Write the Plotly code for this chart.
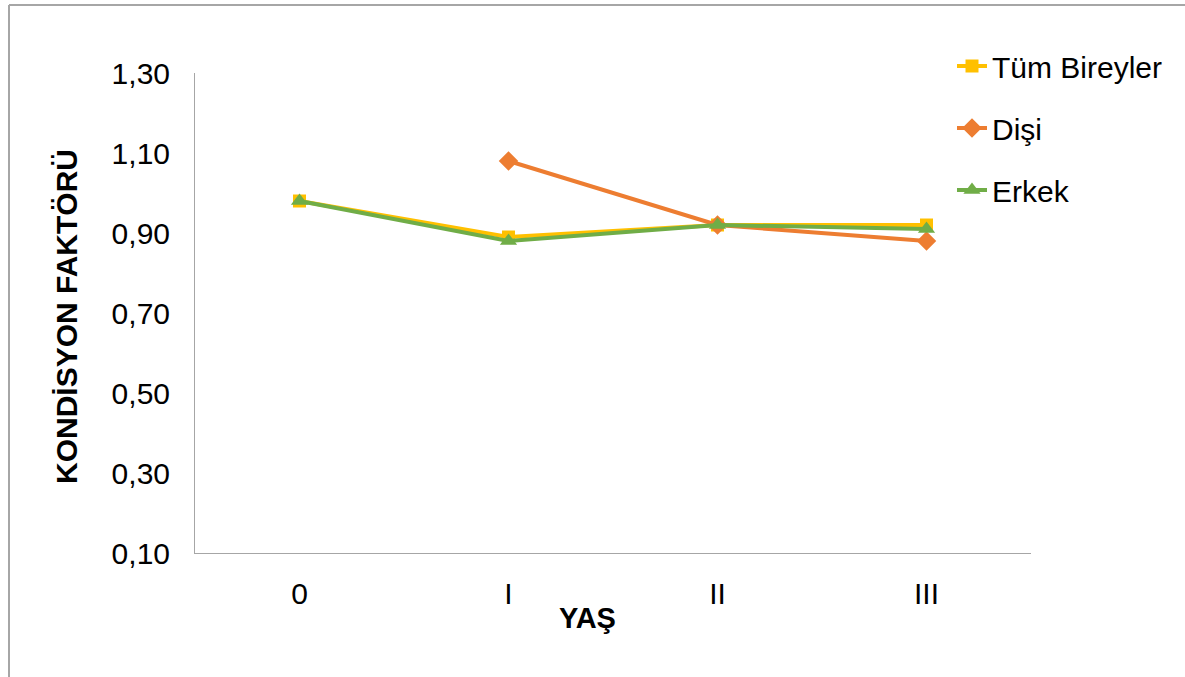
import plotly.graph_objects as go

categories = ["0", "I", "II", "III"]
tum_bireyler = [0.98, 0.89, 0.92, 0.92]
disi = [None, 1.08, 0.92, 0.88]
erkek = [0.98, 0.88, 0.92, 0.91]
y_ticks = [0.10, 0.30, 0.50, 0.70, 0.90, 1.10, 1.30]

FONT = "Liberation Sans, Arial, sans-serif"

fig = go.Figure()
fig.add_trace(go.Scatter(
    x=categories, y=tum_bireyler, name="Tüm Bireyler", mode="lines+markers",
    line=dict(color="#FFC000", width=4),
    marker=dict(symbol="square", size=13, color="#FFC000"),
    legendgroup="a",
))
fig.add_trace(go.Scatter(
    x=categories, y=disi, name="Dişi", mode="lines+markers",
    line=dict(color="#ED7D31", width=4),
    marker=dict(symbol="diamond", size=15, color="#ED7D31"),
    legendgroup="b",
))
fig.add_trace(go.Scatter(
    x=categories, y=erkek, name="Erkek", mode="lines+markers",
    line=dict(color="#70AD47", width=4),
    marker=dict(symbol="triangle-up", size=15, color="#70AD47"),
    legendgroup="c",
))

W, H = 1185, 677
L, R, T, B = 195, 154, 73, 124
pw, ph = W - L - R, H - T - B

def px_x(p):
    return (p - L) / pw

def px_y(p):
    return (H - B - p) / ph

fig.update_layout(
    width=W, height=H,
    margin=dict(l=L, r=R, t=T, b=B),
    paper_bgcolor="white", plot_bgcolor="white",
    separators=",.",
    font=dict(family=FONT, size=30, color="#000000"),
    showlegend=True,
    legend=dict(
        x=px_x(952), y=px_y(40), xanchor="left", yanchor="top",
        font=dict(family=FONT, size=30, color="#000000"),
        tracegroupgap=20, bgcolor="rgba(0,0,0,0)",
    ),
    xaxis=dict(
        type="category", categoryorder="array", categoryarray=categories,
        range=[-0.5, 3.5], showgrid=False, zeroline=False,
        showline=True, linecolor="#A6A6A6", linewidth=1,
        ticks="", ticklabelstandoff=14,
        tickfont=dict(family=FONT, size=30, color="#000000"),
    ),
    yaxis=dict(
        range=[0.10, 1.30], tickvals=y_ticks, tickformat=".2f",
        showgrid=False, zeroline=False,
        showline=True, linecolor="#A6A6A6", linewidth=1,
        ticks="", ticklabelstandoff=18,
        tickfont=dict(family=FONT, size=30, color="#000000"),
    ),
    annotations=[
        dict(text="<b>KONDİSYON FAKTÖRÜ</b>", xref="paper", yref="paper",
             x=px_x(66), y=px_y(317), xanchor="center", yanchor="middle",
             textangle=-90, showarrow=False,
             font=dict(family=FONT, size=30, color="#000000")),
        dict(text="<b>YAŞ</b>", xref="paper", yref="paper",
             x=px_x(587), y=px_y(618), xanchor="center", yanchor="middle",
             showarrow=False,
             font=dict(family=FONT, size=29, color="#000000")),
    ],
    shapes=[
        dict(type="line", xref="paper", yref="paper",
             x0=px_x(9), x1=px_x(W + 5), y0=px_y(5), y1=px_y(5),
             line=dict(color="#A6A6A6", width=2)),
        dict(type="line", xref="paper", yref="paper",
             x0=px_x(9), x1=px_x(9), y0=px_y(5), y1=px_y(H + 5),
             line=dict(color="#A6A6A6", width=2)),
    ],
)

fig.write_html("out.html", config={"displayModeBar": False},
               post_script="document.body.style.margin='0';")
